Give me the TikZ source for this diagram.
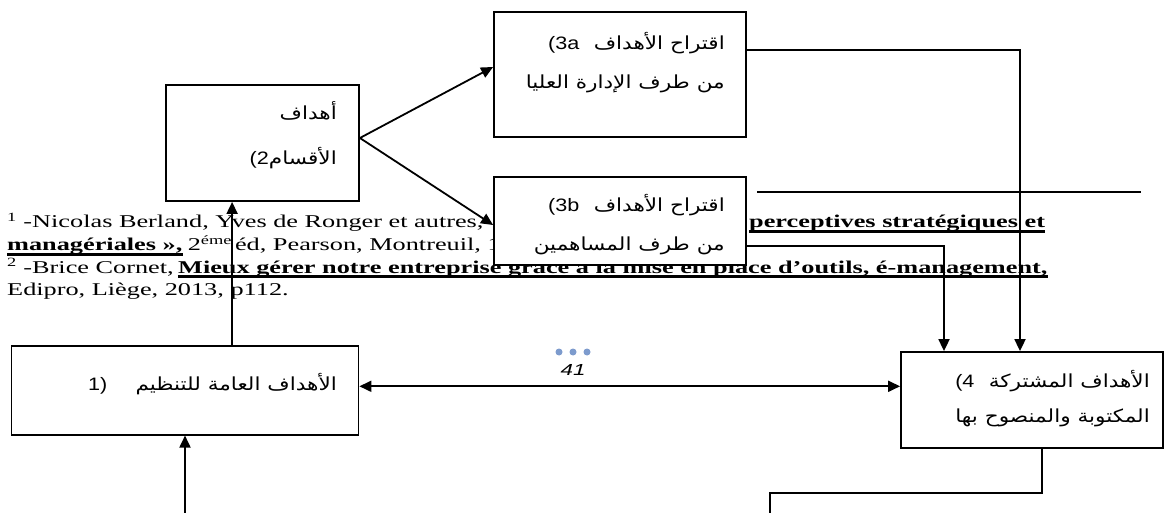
\documentclass[tikz,border=0pt]{standalone}
\usepackage{fontspec}
\setmainfont{Liberation Serif}
\newfontfamily\fnfont[FakeStretch=1.46]{Liberation Serif}
\newfontfamily\arfont[Script=Arabic,FakeStretch=1.2]{DejaVu Sans}
\newfontfamily\numfont[FakeStretch=1.2]{Liberation Sans}
\newfontfamily\pgfont[FakeStretch=1.4]{Liberation Sans}
\TeXXeTstate=1
\usetikzlibrary{arrows.meta}
\definecolor{dotblue}{RGB}{125,155,205}
% step label set in a Latin face inside the Arabic lines
\newcommand{\steplbl}[1]{\hbox{\numfont\fontsize{18}{22}\selectfont #1}}

\begin{document}
\begin{tikzpicture}[x=1pt,y=-1pt,
  box/.style={draw,line width=1.8pt,fill=white,inner sep=0pt},
  conn/.style={line width=1.8pt},
  arr/.style={conn,-{Triangle[length=12pt,width=11pt]}},
  biarr/.style={conn,{Triangle[length=12pt,width=11pt]}-{Triangle[length=12pt,width=11pt]}},
  fn/.style={anchor=base west,inner sep=0pt,font=\fnfont\fontsize{18}{22}\selectfont},
  fnb/.style={fn,font=\fnfont\bfseries\fontsize{18}{22}\selectfont},
  ul/.style={line width=2.2pt},
  ar/.style={anchor=base east,inner sep=0pt,font=\arfont\fontsize{18}{22}\selectfont},
  arl/.style={ar,anchor=base west},
]
\useasboundingbox (0,0) rectangle (1173,513);
\fill[white] (0,0) rectangle (1173,513);

% footnotes of the page, partly under the boxes
\node[fn] (f1a) at (7,228) {\textsuperscript{1} -Nicolas Berland, Yves de Ronger et autres,};
\node[fnb] (f1b) at (749,228) {perceptives stratégiques et};
\draw[ul] ([yshift=-3.5pt]f1b.base west) -- ([yshift=-3.5pt]f1b.base east);
\node[fnb] (f2a) at (7,251) {managériales »,};
\draw[ul] ([yshift=-3.5pt]f2a.base west) -- ([yshift=-3.5pt]f2a.base east);
\node[fn] (f2b) at ([xshift=5pt]f2a.base east) {2\textsuperscript{éme}\,éd, Pearson, Montreuil, 1};
\node[fn] (f3a) at (7,273) {\textsuperscript{2} -Brice Cornet,};
\node[fnb] (f3b) at ([xshift=4pt]f3a.base east) {Mieux gérer notre entreprise grâce à la mise en place d’outils, é-management,};
\draw[ul] ([yshift=-3.5pt]f3b.base west) -- ([yshift=-3.5pt]f3b.base east);
\node[fn] (f4) at (7,295) {Edipro, Liège, 2013, p112.};
\coordinate (sepL) at (757,192);
\coordinate (sepR) at (1141,192);
\draw[line width=1.4pt] (sepL) -- (sepR);

% boxes
\node[box,minimum width=193pt,minimum height=116pt] (box2) at (262.5,143) {};
\node[box,minimum width=252pt,minimum height=125pt] (box3a) at (620,74.5) {};
\node[box,minimum width=252pt,minimum height=88pt] (box3b) at (620,221) {};
\node[box,minimum width=347pt,minimum height=88.7pt] (box1) at (185,390.3) {};
\node[box,minimum width=262pt,minimum height=96pt] (box4) at (1032,400) {};

% box texts
\node[ar] (t2a) at (337,120) {\beginR أهداف\endR};
\node[ar] (t2b) at (337,165) {\steplbl{(2}\beginR الأقسام\endR};
\node[ar] (t3a1) at (725,50) {\steplbl{(3a}\hspace{0.8em}\beginR اقتراح الأهداف\endR};
\node[ar] (t3a2) at (725,89) {\beginR من طرف الإدارة العليا\endR};
\node[ar] (t3b1) at (725,212) {\steplbl{(3b}\hspace{0.8em}\beginR اقتراح الأهداف\endR};
\node[ar] (t3b2) at (725,251) {\beginR من طرف المساهمين\endR};
\node[arl] (t1n) at (88,390) {\steplbl{1)}};
\node[ar] (t1) at (337,390) {\beginR الأهداف العامة للتنظيم\endR};
\node[ar] (t4a) at (1150,387) {\steplbl{(4}\hspace{0.8em}\beginR الأهداف المشتركة\endR};
\node[ar] (t4b) at (1150,422) {\beginR المكتوبة والمنصوح بها\endR};

% page number
\fill[dotblue] (559,352) circle (3.5pt) (573,352) circle (3.5pt) (587,352) circle (3.5pt);
\node[font=\pgfont\itshape\fontsize{16}{18}\selectfont,inner sep=0pt] (pg) at (573,370) {41};

% connectors
\draw[arr] ([yshift=5pt]box2.east) -- ([yshift=7.5pt]box3a.west);
\draw[arr] ([yshift=5pt]box2.east) -- ([yshift=-4pt]box3b.west);
\coordinate (up1) at ([xshift=221.5pt]box1.north west);
\draw[arr] (up1) -- (up1 |- box2.south);
\coordinate (in1) at (185,513);
\draw[arr] (in1) -- (box1.south);
\coordinate (e1) at ([yshift=4pt]box1.east);
\draw[biarr] (e1) -- (e1 -| box4.west);
\coordinate (o3a) at ([yshift=24.5pt]box3a.east);
\coordinate (i4a) at ([xshift=-12pt]box4.north);
\draw[arr] (o3a) -| (i4a);
\coordinate (o3b) at ([yshift=-25pt]box3b.east);
\coordinate (i4b) at ([xshift=-88pt]box4.north);
\draw[arr] (o3b) -| (i4b);
\coordinate (o4) at ([xshift=10pt]box4.south);
\coordinate (end4) at (770,513);
\draw[conn] (o4) -- ++(0,44) -| (end4);
\end{tikzpicture}
\end{document}
